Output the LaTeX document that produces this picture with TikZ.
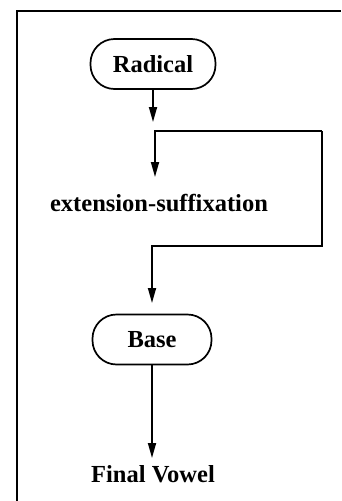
\documentclass[tikz,border=0pt]{standalone}
\usepackage{fontspec}
\setmainfont{Liberation Serif}
\usetikzlibrary{arrows.meta}
\begin{document}
\begin{tikzpicture}[x=1pt,y=-1pt,
  line width=1.7pt,
  arr/.style={-{Triangle[length=15pt,width=8pt]}},
  term/.style={draw,rounded corners=24pt,minimum width=#1,minimum height=50pt,inner sep=0pt,font=\fontsize{24.5}{28}\selectfont\bfseries},
  lbl/.style={inner sep=0pt,font=\fontsize{24.5}{28}\selectfont\bfseries}]
\useasboundingbox (0,0) rectangle (341,501);
\coordinate (fb) at (17,501);
\coordinate (ftl) at (17,11);
\coordinate (ftr) at (341,11);
\draw (fb) -- (ftl) -- (ftr);
\node[term=125pt] (rad) at (153,64) {Radical};
\coordinate (radend) at (153,122);
\draw[arr] (rad.south) -- (radend);
\node[lbl] (ext) at (159,203) {extension-suffixation};
\coordinate (c1) at (155,131);
\coordinate (c2) at (322,131);
\coordinate (c3) at (322,246);
\coordinate (c4) at (152,246);
\coordinate (extin) at (155,177);
\draw[arr] (c2) -- (c1) -- (extin);
\node[term=119pt] (base) at (152,339.5) {Base};
\coordinate (basein) at (152,303);
\draw[arr] (c2) -- (c3) -- (c4) -- (basein);
\node[lbl] (fv) at (153,474) {Final Vowel};
\coordinate (fvin) at (152,458);
\draw[arr] (base.south) -- (fvin);
\end{tikzpicture}
\end{document}
